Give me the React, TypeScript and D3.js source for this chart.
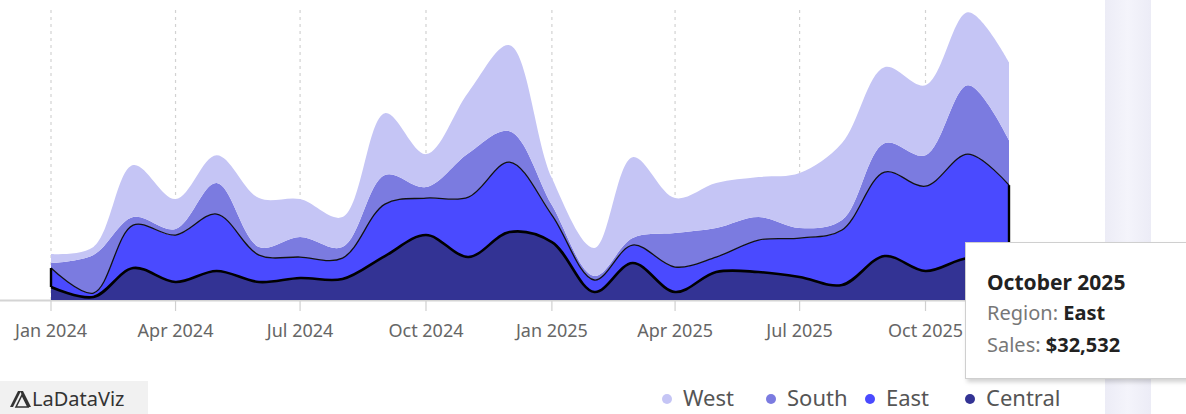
import React from 'react';
import * as d3 from 'd3';

const months = [
  '2024-01', '2024-02', '2024-03', '2024-04', '2024-05', '2024-06',
  '2024-07', '2024-08', '2024-09', '2024-10', '2024-11', '2024-12',
  '2025-01', '2025-02', '2025-03', '2025-04', '2025-05', '2025-06',
  '2025-07', '2025-08', '2025-09', '2025-10', '2025-11', '2025-12',
];

const central = [4980, 1150, 12260, 6890, 11110, 6890, 8430, 8040, 16850, 24900, 16470, 26040,
  22210, 3060, 14170, 3060, 10720, 10720, 8810, 5750, 16850, 11110, 16090, 14550];
const east = [7280, 1530, 16470, 18000, 21830, 10340, 8040, 8040, 19920, 14170, 22980, 26810,
  10340, 4600, 6890, 9580, 5750, 12260, 14940, 21070, 32170, 32532, 39830, 29490];
const south = [1920, 14550, 3060, 2300, 11870, 3060, 7660, 4210, 11110, 4210, 16850, 11870,
  3830, 1530, 2680, 13020, 11110, 8810, 3830, 3830, 11110, 11870, 26430, 17240];
const west = [3450, 3060, 19920, 11490, 10720, 18770, 14550, 11490, 23750, 12640, 23360, 32940,
  10340, 10720, 31020, 13400, 17240, 15320, 21070, 29490, 29110, 26810, 27960, 29870];

const regions = ['Central', 'East', 'South', 'West'];
const colors: Record<string, string> = {
  West: '#c5c5f5',
  South: '#7b7be0',
  East: '#4a4aff',
  Central: '#333394',
};
const legendOrder = ['West', 'South', 'East', 'Central'];
const tickLabels = ['Jan 2024', 'Apr 2024', 'Jul 2024', 'Oct 2024', 'Jan 2025', 'Apr 2025', 'Jul 2025', 'Oct 2025'];
const tickMonths = ['2024-01', '2024-04', '2024-07', '2024-10', '2025-01', '2025-04', '2025-07', '2025-10'];

const W = 1186;
const H = 414;
const FONT = '"Noto Sans", "Open Sans", sans-serif';

const parse = d3.timeParse('%Y-%m');

export default function App() {
  const rows = months.map((m, i) => ({
    date: parse(m) as Date,
    Central: central[i],
    East: east[i],
    South: south[i],
    West: west[i],
  }));

  const x = d3.scaleTime()
    .domain([parse(months[0]) as Date, parse(months[months.length - 1]) as Date])
    .range([51, 1009]);
  const y = d3.scaleLinear().domain([0, 115000]).range([300, 0]);

  const series = d3.stack<any>().keys(regions)(rows);
  const curve = d3.curveCatmullRom.alpha(0.5);

  const area = d3.area<any>()
    .x((d) => x(d.data.date))
    .y0((d) => y(d[0]))
    .y1((d) => y(d[1]))
    .curve(curve);
  const topLine = d3.line<any>()
    .x((d) => x(d.data.date))
    .y((d) => y(d[1]))
    .curve(curve);

  const centralS = series[0];
  const eastS = series[1];
  const first = rows[0].date;
  const last = rows[rows.length - 1].date;

  return (
    <svg width={W} height={H} style={{ position: 'absolute', left: 0, top: 0, background: '#fff' }}>
      <defs>
        <linearGradient id="band" x1="0" x2="1" y1="0" y2="0">
          <stop offset="0" stopColor="#ececf6" />
          <stop offset="0.5" stopColor="#f4f4fb" />
          <stop offset="1" stopColor="#ececf6" />
        </linearGradient>
        <filter id="shadow" x="-10%" y="-10%" width="130%" height="130%">
          <feDropShadow dx="2" dy="3" stdDeviation="2" floodColor="#000" floodOpacity="0.18" />
        </filter>
        <clipPath id="plot">
          <rect x={0} y={0} width={1010} height={300} />
        </clipPath>
      </defs>

      {/* right side band */}
      <rect x={1105} y={0} width={46} height={H} fill="url(#band)" />

      {/* gridlines */}
      {tickMonths.map((m) => (
        <line key={'g' + m} x1={x(parse(m) as Date)} x2={x(parse(m) as Date)} y1={10} y2={300}
          stroke="#d2d2d2" strokeDasharray="3,4" strokeWidth={1.2} />
      ))}

      {/* baseline + ticks */}
      <line x1={0} x2={1105} y1={300.5} y2={300.5} stroke="#d4d4d4" strokeWidth={2} />
      {tickMonths.map((m) => (
        <line key={'t' + m} x1={x(parse(m) as Date)} x2={x(parse(m) as Date)} y1={301} y2={311}
          stroke="#d0d0d0" strokeWidth={1.2} />
      ))}

      <g clipPath="url(#plot)">
        {/* stacked areas */}
        {series.map((s) => (
          <path key={s.key} d={area(s) as string} fill={colors[s.key]} />
        ))}

        {/* East highlight outline */}
        <path d={topLine(eastS) as string} fill="none" stroke="#111" strokeWidth={1.3} />
        <path d={topLine(centralS) as string} fill="none" stroke="#000" strokeWidth={2.6} />
      </g>
      <line x1={x(first)} x2={x(first)} y1={y(eastS[0][1])} y2={y(centralS[0][1])} stroke="#000" strokeWidth={2.4} />
      <line x1={x(last)} x2={x(last)} y1={y(eastS[eastS.length - 1][1])} y2={y(centralS[centralS.length - 1][1])} stroke="#000" strokeWidth={2.4} />

      {/* tick labels */}
      {tickLabels.map((t, i) => (
        <text key={t} x={x(parse(tickMonths[i]) as Date)} y={337} textAnchor="middle"
          fontFamily={FONT} fontSize={18} fill="#666">{t}</text>
      ))}

      {/* legend */}
      {(() => {
        const pos = [667, 771, 870, 970];
        return legendOrder.map((k, i) => (
          <g key={k} transform={`translate(${pos[i]},399)`}>
            <circle cx={0} cy={0} r={5} fill={colors[k]} />
            <text x={16} y={7} fontFamily={FONT} fontSize={22} fill="#555">{k}</text>
          </g>
        ));
      })()}

      {/* logo */}
      <rect x={0} y={381} width={148} height={33} fill="#f1f1f1" />
      <g transform="translate(10,389)" fill="#333">
        <path d="M0,18 L8,2 L11,2 L3,18 Z" />
        <path d="M6,18 L12,6 L18,18 Z" fill="none" stroke="#333" strokeWidth={1.6} />
        <path d="M10,2 L13,2 L21,18 L18,18 Z" />
      </g>
      <text x={32} y={406} fontFamily={FONT} fontSize={20} fill="#333">LaDataViz</text>

      {/* tooltip */}
      <g filter="url(#shadow)">
        <rect x={965.5} y={242.5} width={240} height={136} fill="#fff" stroke="#cfcfcf" />
      </g>
      <text x={987} y={290} fontFamily={FONT} fontSize={21} fontWeight={700} fill="#222">October 2025</text>
      <text x={987} y={320} fontFamily={FONT} fontSize={20} fill="#777">
        Region: <tspan fontWeight={700} fill="#222">East</tspan>
      </text>
      <text x={987} y={352} fontFamily={FONT} fontSize={20} fill="#777">
        Sales: <tspan fontWeight={700} fill="#222">$32,532</tspan>
      </text>
    </svg>
  );
}
